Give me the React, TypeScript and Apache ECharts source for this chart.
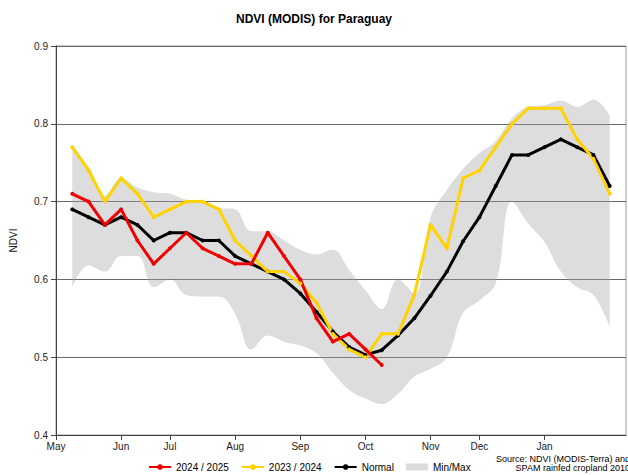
import React, { useEffect, useRef } from "react";
import * as echarts from "echarts";

// x positions: 8-day steps, index 0..35 (data at 1..34)
const stepCount = 36;
const monthTickIndex = [0, 4, 7, 11, 15, 19, 23, 26, 30];
const monthTickLabels = ["May", "Jun", "Jul", "Aug", "Sep", "Oct", "Nov", "Dec", "Jan"];

const season2425 = [0.71, 0.70, 0.67, 0.69, 0.65, 0.62, 0.64, 0.66, 0.64, 0.63, 0.62, 0.62, 0.66, 0.63, 0.60, 0.55, 0.52, 0.53, 0.51, 0.49];
const season2324 = [0.77, 0.74, 0.70, 0.73, 0.71, 0.68, 0.69, 0.70, 0.70, 0.69, 0.65, 0.63, 0.61, 0.61, 0.595, 0.57, 0.53, 0.51, 0.50, 0.53, 0.53, 0.58, 0.67, 0.64, 0.73, 0.74, 0.77, 0.80, 0.82, 0.82, 0.82, 0.78, 0.755, 0.71];
const normal = [0.69, 0.68, 0.67, 0.68, 0.67, 0.65, 0.66, 0.66, 0.65, 0.65, 0.63, 0.62, 0.61, 0.60, 0.582, 0.558, 0.533, 0.513, 0.503, 0.509, 0.528, 0.55, 0.579, 0.61, 0.649, 0.68, 0.72, 0.76, 0.76, 0.77, 0.78, 0.77, 0.76, 0.72];
const bandMax = [0.77, 0.745, 0.708, 0.73, 0.718, 0.712, 0.71, 0.702, 0.70, 0.692, 0.69, 0.662, 0.662, 0.65, 0.638, 0.632, 0.638, 0.612, 0.586, 0.562, 0.60, 0.582, 0.68, 0.715, 0.742, 0.762, 0.778, 0.807, 0.822, 0.824, 0.83, 0.822, 0.831, 0.811];
const bandMin = [0.59, 0.618, 0.61, 0.63, 0.63, 0.59, 0.60, 0.58, 0.578, 0.578, 0.556, 0.51, 0.528, 0.52, 0.515, 0.505, 0.48, 0.458, 0.447, 0.44, 0.453, 0.475, 0.485, 0.50, 0.557, 0.573, 0.595, 0.70, 0.672, 0.648, 0.61, 0.59, 0.58, 0.539];

const yTicks = { min: 0.4, max: 0.9, interval: 0.1 };

const FONT = "'Liberation Sans', Arial, sans-serif";

function pad(arr: (number | string)[]): (number | string)[] {
  const out: (number | string)[] = ["-"];
  for (const v of arr) out.push(v);
  while (out.length < stepCount) out.push("-");
  return out;
}

export default function App() {
  const ref = useRef<HTMLDivElement>(null);
  useEffect(() => {
    if (!ref.current) return;
    const chart = echarts.init(ref.current, undefined, { renderer: "svg" });
    const cats = Array.from({ length: stepCount }, (_, i) => String(i));
    const tickSet = new Set(monthTickIndex);
    const labelOf = (i: number) => {
      const p = monthTickIndex.indexOf(i);
      return p >= 0 ? monthTickLabels[p] : "";
    };
    const bandDiff = bandMax.map((v, i) => +(v - bandMin[i]).toFixed(4));
    const lineSeries = (name: string, data: number[], color: string) => ({
      name,
      type: "line",
      data: pad(data),
      symbol: "circle",
      symbolSize: 4,
      showSymbol: true,
      itemStyle: { color },
      lineStyle: { color, width: 3 },
      z: 5,
    });
    chart.setOption({
      animation: false,
      textStyle: { fontFamily: FONT },
      title: {
        text: "NDVI (MODIS) for Paraguay",
        left: "center",
        top: 8,
        textStyle: { fontSize: 12, fontWeight: "bold", color: "#000", fontFamily: FONT },
      },
      grid: {
        left: 54,
        right: 2,
        top: 46,
        bottom: 40,
        show: true,
        borderColor: "#999",
        borderWidth: 1,
      },
      legend: {
        left: 143,
        top: 457,
        itemWidth: 22,
        itemHeight: 7,
        itemGap: 12,
        textStyle: { fontSize: 10, color: "#000", fontFamily: FONT },
        data: [
          "2024 / 2025",
          "2023 / 2024",
          "Normal",
          { name: "Min/Max", icon: "rect", itemStyle: { color: "#dcdcdc", borderWidth: 0 } },
        ],
      },
      xAxis: {
        type: "category",
        data: cats,
        boundaryGap: false,
        axisLine: { lineStyle: { color: "#444", width: 1 } },
        axisTick: {
          show: true,
          length: 5,
          interval: (i: number) => tickSet.has(i),
          lineStyle: { color: "#444" },
        },
        axisLabel: {
          interval: (i: number) => tickSet.has(i),
          formatter: (_v: string, i: number) => labelOf(i),
          color: "#222",
          fontSize: 10,
          margin: 6,
          fontFamily: FONT,
        },
        splitLine: { show: false },
      },
      yAxis: {
        type: "value",
        min: yTicks.min,
        max: yTicks.max,
        interval: yTicks.interval,
        name: "NDVI",
        nameLocation: "middle",
        nameGap: 38,
        nameTextStyle: { fontSize: 10, color: "#222", fontFamily: FONT },
        axisLine: { show: true, lineStyle: { color: "#444", width: 1 } },
        axisTick: { show: true, length: 5, lineStyle: { color: "#444" } },
        axisLabel: {
          formatter: (v: number) => v.toFixed(1),
          color: "#222",
          fontSize: 10,
          margin: 8,
          fontFamily: FONT,
        },
        splitLine: { show: true, lineStyle: { color: "#6a6a6a", width: 1 } },
      },
      series: [
        {
          name: "bandBase",
          type: "line",
          data: pad(bandMin),
          stack: "band",
          smooth: 0.4,
          symbol: "none",
          lineStyle: { opacity: 0 },
          silent: true,
          z: 1,
        },
        {
          name: "Min/Max",
          type: "line",
          data: pad(bandDiff),
          stack: "band",
          smooth: 0.4,
          symbol: "none",
          itemStyle: { color: "#dcdcdc" },
          lineStyle: { opacity: 0 },
          areaStyle: { color: "rgba(160,160,160,0.36)", opacity: 1 },
          silent: true,
          z: 1,
        },
        lineSeries("Normal", normal, "#000000"),
        lineSeries("2023 / 2024", season2324, "#ffd200"),
        lineSeries("2024 / 2025", season2425, "#f00000"),
      ],
      graphic: [
        {
          type: "text",
          x: 630,
          y: 459,
          style: {
            text: "Source: NDVI (MODIS-Terra) and",
            textAlign: "right",
            textVerticalAlign: "middle",
            fontSize: 9,
            fontFamily: FONT,
            fill: "#000",
          },
        },
        {
          type: "text",
          x: 630,
          y: 468,
          style: {
            text: "SPAM rainfed cropland 2010",
            textAlign: "right",
            textVerticalAlign: "middle",
            fontSize: 9,
            fontFamily: FONT,
            fill: "#000",
          },
        },
      ],
    });
    return () => chart.dispose();
  }, []);
  return (
    <div
      ref={ref}
      style={{ position: "fixed", left: 0, top: 0, width: 628, height: 475, background: "#fff" }}
    />
  );
}
